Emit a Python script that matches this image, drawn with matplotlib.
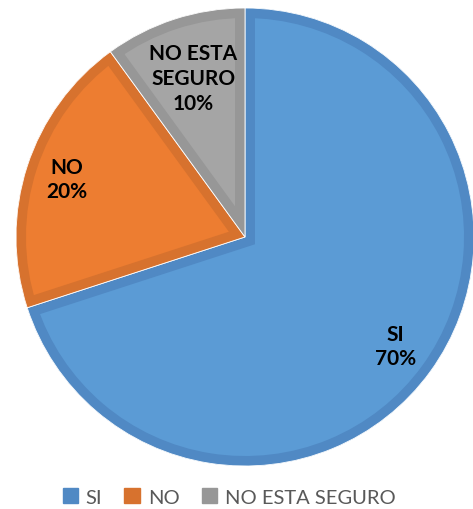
import numpy as np
import matplotlib.pyplot as plt
from matplotlib.patches import Patch, Wedge

categorias = ["SI", "NO", "NO ESTA SEGURO"]
etiquetas = ["SI", "NO", "NO ESTA\nSEGURO"]
porcentajes = [70, 20, 10]

relleno = ["#5B9BD5", "#ED7D31", "#A5A5A5"]
borde = ["#5089C4", "#D7722E", "#979797"]
dist_etiqueta = [0.81, 0.82, 0.73]

plt.rcParams['font.family'] = ['Lato', 'DejaVu Sans']

fig = plt.figure(figsize=(4.73, 5.10), dpi=100)
ax = fig.add_axes([16 / 473, 43 / 510, 458 / 473, 458 / 510])

wedges, _ = ax.pie(porcentajes, colors=relleno, startangle=90, counterclock=False,
                   wedgeprops=dict(linewidth=0))

# thick border kept inside each slice: wide stroke clipped to the slice itself
for w, c in zip(wedges, borde):
    b = Wedge(w.center, w.r, w.theta1, w.theta2, fill=False,
              edgecolor=c, linewidth=14.4)
    ax.add_patch(b)
    b.set_clip_path(w)
    ax.add_patch(Wedge(w.center, w.r, w.theta1, w.theta2, fill=False,
                       edgecolor="white", linewidth=0.6))

for w, txt, p, d in zip(wedges, etiquetas, porcentajes, dist_etiqueta):
    ang = np.deg2rad((w.theta1 + w.theta2) / 2)
    ax.text(d * np.cos(ang), d * np.sin(ang), f"{txt}\n{p}%",
            ha="center", va="center", fontsize=15, fontweight="bold",
            color="#000000", linespacing=1.3)

ax.set_xlim(-1, 1)
ax.set_ylim(-1, 1)
ax.set_aspect("equal")
ax.axis("off")

handles = [Patch(facecolor=c, edgecolor=c) for c in borde]
fig.legend(handles, categorias, loc="center", bbox_to_anchor=(229 / 473, 1 - 498 / 510),
           ncol=3, frameon=False, fontsize=14.5, handlelength=0.75, handleheight=0.75,
           handletextpad=0.4, columnspacing=1.1, labelcolor="#595959")

fig.savefig("out.png", dpi=100)
